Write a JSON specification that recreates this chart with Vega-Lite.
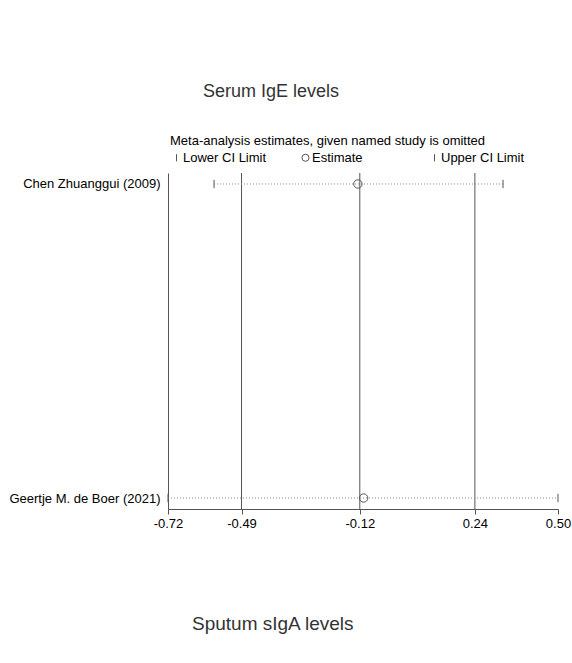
{
  "$schema": "https://vega.github.io/schema/vega-lite/v6.json",
  "padding": {"left": 8, "top": 82, "right": 0, "bottom": 5},
  "config": {
    "font": "Liberation Sans",
    "view": {"stroke": null}
  },
  "datasets": {
    "est": [
      {"study": "Chen Zhuanggui (2009)", "type": "Lower CI Limit", "value": -0.576},
      {"study": "Chen Zhuanggui (2009)", "type": "Estimate", "value": -0.126},
      {"study": "Chen Zhuanggui (2009)", "type": "Upper CI Limit", "value": 0.328},
      {"study": "Geertje M. de Boer (2021)", "type": "Lower CI Limit", "value": -0.72},
      {"study": "Geertje M. de Boer (2021)", "type": "Estimate", "value": -0.108},
      {"study": "Geertje M. de Boer (2021)", "type": "Upper CI Limit", "value": 0.50}
    ],
    "ref": [{"v": -0.49}, {"v": -0.12}, {"v": 0.24}]
  },
  "vconcat": [
    {
      "title": {"text": "Serum IgE levels", "anchor": "start", "frame": "group", "dx": 35, "fontSize": 18, "fontWeight": "normal", "color": "#333333", "offset": 72},
      "width": 390,
      "height": 336,
      "layer": [
        {
          "data": {"name": "ref"},
          "mark": {"type": "rule", "color": "#555555", "strokeWidth": 1},
          "encoding": {
            "x": {
              "field": "v", "type": "quantitative", "title": null,
              "scale": {"domain": [-0.72, 0.5], "nice": false, "zero": false},
              "axis": {
                "title": null,
                "values": [-0.72, -0.49, -0.12, 0.24, 0.5],
                "format": ".2f",
                "labelExpr": "replace(datum.label, '\u2212', '-')",
                "grid": false,
                "labelFlush": false,
                "labelOverlap": false,
                "labelFontSize": 13,
                "labelColor": "#000000",
                "labelPadding": 3,
                "domainColor": "#555555",
                "tickColor": "#555555",
                "tickSize": 5
              }
            }
          }
        },
        {
          "data": {"name": "est"},
          "mark": {"type": "rule", "color": "#888888", "strokeWidth": 1, "strokeDash": [1, 2]},
          "encoding": {
            "y": {"field": "study", "type": "nominal", "title": null},
            "x": {"aggregate": "min", "field": "value", "type": "quantitative", "title": null},
            "x2": {"aggregate": "max", "field": "value"}
          }
        },
        {
          "data": {"name": "est"},
          "mark": {"type": "point", "filled": false, "color": "#555555", "strokeWidth": 1, "opacity": 1, "size": 70},
          "encoding": {
            "x": {"field": "value", "type": "quantitative", "title": null},
            "y": {
              "field": "study", "type": "nominal", "title": null,
              "scale": {"type": "point", "padding": 0.035},
              "axis": {
                "title": null,
                "ticks": false,
                "grid": false,
                "domainColor": "#555555",
                "labelPadding": 8,
                "labelFontSize": 13,
                "labelColor": "#000000",
                "labelLimit": 300
              }
            },
            "shape": {
              "field": "type", "type": "nominal",
              "scale": {"domain": ["Lower CI Limit", "Estimate", "Upper CI Limit"], "range": ["M0,-1V1", "circle", "M0,-1V1"]},
              "legend": {
                "title": "Meta-analysis estimates, given named study is omitted",
                "orient": "none",
                "legendX": 2,
                "legendY": -38,
                "direction": "horizontal",
                "columns": 3,
                "gridAlign": "all",
                "columnPadding": 32,
                "titleFontWeight": "normal",
                "titleFontSize": 13,
                "titleColor": "#000000",
                "titlePadding": 3,
                "titleLimit": 500,
                "labelFontSize": 13,
                "labelColor": "#000000",
                "labelOffset": 0,
                "labelLimit": 300,
                "symbolSize": 50,
                "symbolStrokeColor": "#555555",
                "symbolStrokeWidth": 1,
                "padding": 0
              }
            }
          }
        }
      ]
    },
    {
      "title": {"text": "Sputum sIgA levels", "anchor": "start", "frame": "group", "dx": 24, "fontSize": 19, "fontWeight": "normal", "color": "#333333", "offset": 4},
      "width": 390,
      "height": 10,
      "data": {"values": [{"k": 1}]},
      "mark": {"type": "point", "opacity": 0},
      "encoding": {}
    }
  ],
  "spacing": 85
}
